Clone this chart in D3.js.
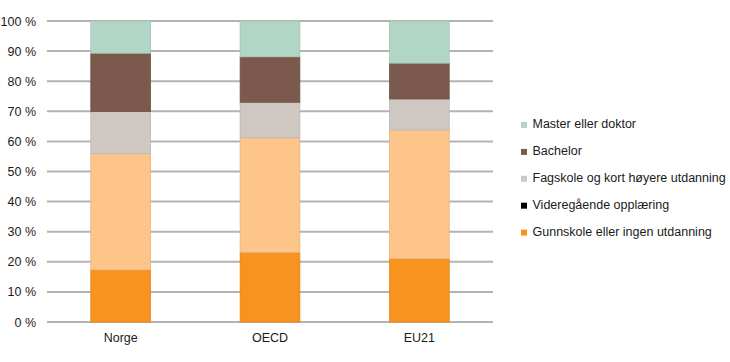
<!DOCTYPE html>
<html>
<head>
<meta charset="utf-8">
<script src="https://cdn.jsdelivr.net/npm/d3@7"></script>
<style>
  body { margin: 0; background: #fff; }
  text { font-family: "Liberation Sans", Arial, sans-serif; fill: #1a1a1a; }
</style>
</head>
<body>
<script>
var categories = ["Norge", "OECD", "EU21"];
var seriesNames = ["Gunnskole eller ingen utdanning", "Videregående opplæring", "Fagskole og kort høyere utdanning", "Bachelor", "Master eller doktor"];
var gunnskole = [17.3, 23.1, 21.0];
var videregaende = [38.6, 38.1, 42.8];
var fagskole = [14.0, 11.8, 10.3];
var bachelor = [19.4, 15.1, 11.9];
var master = [10.7, 11.9, 14.0];
var yTicks = [0, 10, 20, 30, 40, 50, 60, 70, 80, 90, 100];

var seriesValues = [gunnskole, videregaende, fagskole, bachelor, master];
var colors = ["#f7931e", "#fdc58a", "#cfc7c1", "#7b5a4d", "#b2d6c5"];
var legendColors = ["#f7931e", "#000000", "#cfc7c1", "#7b5a4d", "#b2d6c5"];

var rows = categories.map(function(c, i) {
  var r = { cat: c };
  seriesNames.forEach(function(s, j) { r[s] = seriesValues[j][i]; });
  return r;
});

var stack = d3.stack().keys(seriesNames)(rows);

var svg = d3.select("body").append("svg").attr("width", 730).attr("height", 362);

var x = d3.scaleBand().domain(categories).range([46, 494]).paddingInner(0.6).paddingOuter(0.3);
var y = d3.scaleLinear().domain([0, 100]).range([322, 21]);

// gridlines
svg.append("g").selectAll("line")
      .data(yTicks)
      .enter().append("line")
      .attr("x1", 47)
      .attr("x2", 493)
      .attr("y1", function(d) { return y(d); })
      .attr("y2", function(d) { return y(d); })
      .attr("stroke", "#b3b3b3")
      .attr("stroke-width", 2);

// y axis labels
var yAxis = d3.axisLeft(y).tickValues(yTicks).tickSize(0).tickPadding(0)
      .tickFormat(function(d) { return d + " %"; });
var ya = svg.append("g").attr("transform", "translate(36,0)").call(yAxis);
ya.select(".domain").remove();
ya.selectAll("text").attr("font-size", 12.5).attr("fill", "#1a1a1a")
      .style("font-family", "'Liberation Sans', Arial, sans-serif");

// bars
svg.append("g").selectAll("g")
      .data(stack)
      .enter().append("g")
      .attr("fill", function(d, i) { return colors[i]; })
      .attr("stroke", function(d, i) { return d3.color(colors[i]).darker(0.25); })
      .attr("stroke-width", 0.8)
      .selectAll("rect")
      .data(function(d) { return d; })
      .enter().append("rect")
      .attr("x", function(d) { return x(d.data.cat); })
      .attr("width", x.bandwidth())
      .attr("y", function(d) { return y(d[1]); })
      .attr("height", function(d) { return y(d[0]) - y(d[1]); });

// x axis labels
var xAxis = d3.axisBottom(x).tickSize(0).tickPadding(0);
var xa = svg.append("g").attr("transform", "translate(0,333)").call(xAxis);
xa.select(".domain").remove();
xa.selectAll("text").attr("font-size", 12.5).attr("fill", "#1a1a1a")
      .style("font-family", "'Liberation Sans', Arial, sans-serif");

// legend (top = Master)
var legendOrder = [4, 3, 2, 1, 0];
var lg = svg.append("g").selectAll("g")
      .data(legendOrder)
      .enter().append("g")
      .attr("transform", function(d, i) { return "translate(521," + (125 + i * 26.9) + ")"; });
lg.append("rect")
      .attr("x", 0).attr("y", -3)
      .attr("width", 6).attr("height", 6)
      .attr("fill", function(d) { return legendColors[d]; });
lg.append("text")
      .attr("x", 11.5)
      .attr("dominant-baseline", "middle")
      .attr("font-size", 12.5)
      .text(function(d) { return seriesNames[d]; });
</script>
</body>
</html>
